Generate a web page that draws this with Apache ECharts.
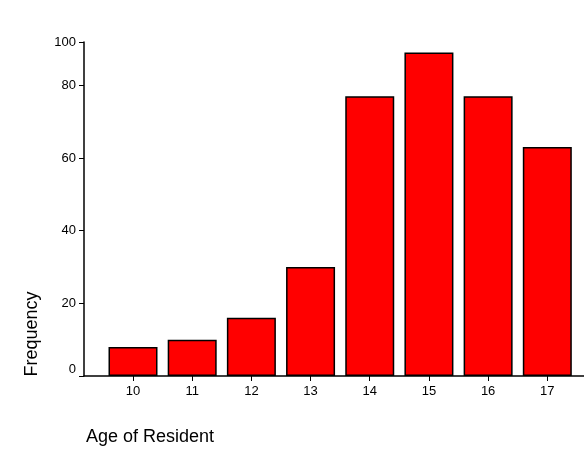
<!DOCTYPE html>
<html><head><meta charset="utf-8">
<script src="https://cdn.jsdelivr.net/npm/echarts@6/dist/echarts.min.js"></script>
<style>html,body{margin:0;padding:0;background:#fff}#c{width:584px;height:451px}</style>
</head><body><div id="c"></div>
<script>
const categories = [10, 11, 12, 13, 14, 15, 16, 17];
const frequency = [8, 10, 16, 30, 77, 89, 77, 63];
const yTickValues = [0, 20, 40, 60, 80];
const yTopLabel = '100';
const xTitle = 'Age of Resident';
const yTitle = 'Frequency';

const yMax = 91.9;
const xMin = 9.172, xMax = 17.62;
const font = 'Liberation Sans, Arial, sans-serif';

const chart = echarts.init(document.getElementById('c'), null, {renderer: 'canvas'});
chart.setOption({
  animation: false,
  grid: {left: 84, right: 0, top: 42, bottom: 75, containLabel: false},
  xAxis: {
    type: 'value', min: xMin, max: xMax,
    splitLine: {show: false},
    axisLine: {show: true, lineStyle: {color: '#000', width: 1.5}},
    axisTick: {show: true, length: 5, lineStyle: {color: '#000'}, customValues: categories},
    axisLabel: {color: '#000', fontSize: 13, fontFamily: font, margin: 9, customValues: categories},
    name: xTitle, nameLocation: 'middle', nameGap: 52,
    nameTextStyle: {color: '#000', fontSize: 18, fontFamily: font, padding: [0, 368, 0, 0]}
  },
  yAxis: {
    type: 'value', min: 0, max: yMax,
    splitLine: {show: false},
    axisLine: {show: true, lineStyle: {color: '#000', width: 1.5}},
    axisTick: {show: true, length: 5, lineStyle: {color: '#000'}, customValues: yTickValues.concat([yMax])},
    axisLabel: {color: '#000', fontSize: 13, fontFamily: font, margin: 8,
      customValues: yTickValues.concat([yMax]),
      formatter: v => (v === yMax ? yTopLabel : (v === 0 ? '{z|0}' : String(v))),
      rich: {z: {color: '#000', fontSize: 13, fontFamily: font, padding: [0, 0, 14, 0]}}},
    name: yTitle, nameLocation: 'middle', nameRotate: 90, nameGap: 43,
    nameTextStyle: {color: '#000', fontSize: 18, fontFamily: font, padding: [0, 250, 0, 0]}
  },
  series: [{
    type: 'bar',
    barWidth: 49,
    data: categories.map((c, i) => [c, frequency[i]]),
    itemStyle: {color: '#ff0000', borderColor: '#000', borderWidth: 1.5}
  }]
});
</script></body></html>
